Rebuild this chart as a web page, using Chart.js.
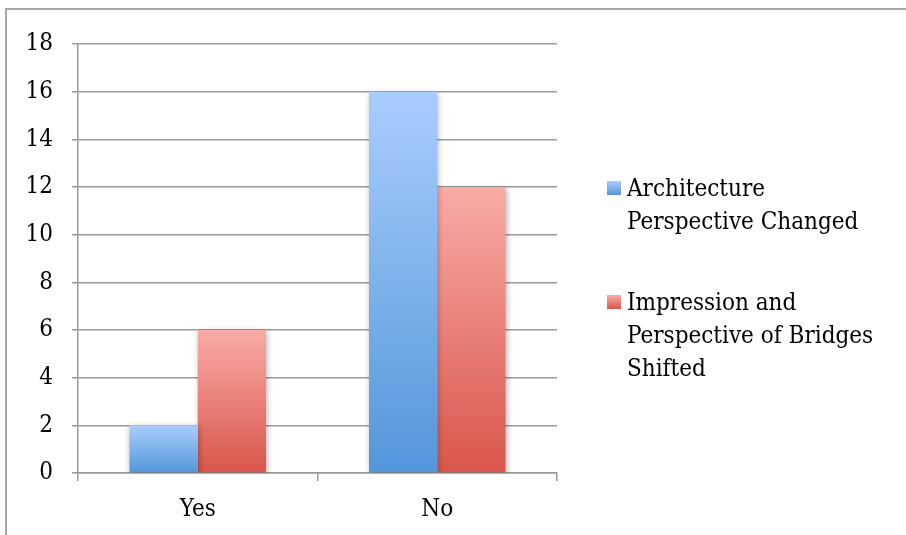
<!DOCTYPE html>
<html>
<head>
<meta charset="utf-8">
<script src="https://cdn.jsdelivr.net/npm/chart.js@4"></script>
<style>
  html, body { margin: 0; padding: 0; background: #fff; }
  #wrap { position: relative; width: 906px; height: 535px; overflow: hidden; }
  #frame { position: absolute; left: 5px; top: 8px; width: 910px; height: 540px;
           border-left: 2px solid #a6a6a6; border-top: 2px solid #a6a6a6; }
  #chart { position: absolute; left: 0; top: 0; }
  #legend { position: absolute; left: 607px; top: 172px;
            font-family: 'DejaVu Serif Condensed', 'DejaVu Serif', serif; font-stretch: condensed;
            font-size: 24px; color: #000; line-height: 33px; }
  .item { position: relative; padding-left: 20px; margin-bottom: 48px; }
  .swatch { position: absolute; left: 0; top: 9px; width: 14px; height: 14px; }
</style>
</head>
<body>
<div id="wrap">
  <div id="frame"></div>
  <canvas id="chart" width="906" height="535"></canvas>
  <div id="legend"></div>
</div>
<script>
const categories = ['Yes', 'No'];
const seriesNames = [['Architecture', 'Perspective Changed'], ['Impression and', 'Perspective of Bridges', 'Shifted']];
const architectureChanged = [2, 16];
const bridgesShifted = [6, 12];
const yTicks = [0, 2, 4, 6, 8, 10, 12, 14, 16, 18];

const blues = ['#a9cdfd', '#5396da'];
const reds = ['#f9aba7', '#d9564a'];
const gridGray = '#999999';
const font = { family: "'DejaVu Serif Condensed', 'DejaVu Serif', serif", size: 24 };

// vertical gradient from bar top down to the baseline
function barGradient(stops) {
  return ctx => {
    const chart = ctx.chart;
    const area = chart.chartArea;
    if (!area || ctx.raw == null) return stops[0];
    const top = chart.scales.y.getPixelForValue(ctx.raw);
    const bottom = chart.scales.y.getPixelForValue(0);
    const g = chart.ctx.createLinearGradient(0, top, 0, bottom);
    g.addColorStop(0, stops[0]);
    g.addColorStop(1, stops[1]);
    return g;
  };
}

// soft drop shadow behind the bars
const barShadow = {
  id: 'barShadow',
  beforeDatasetsDraw(chart) {
    const c = chart.ctx;
    c.save();
    c.shadowColor = 'rgba(0,0,0,0.3)';
    c.shadowBlur = 6;
    c.shadowOffsetX = 1;
    c.shadowOffsetY = 2;
  },
  afterDatasetsDraw(chart) {
    chart.ctx.restore();
  }
};

new Chart(document.getElementById('chart'), {
  type: 'bar',
  data: {
    labels: categories,
    datasets: [
      { label: seriesNames[0].join(' '), data: architectureChanged, backgroundColor: barGradient(blues) },
      { label: seriesNames[1].join(' '), data: bridgesShifted, backgroundColor: barGradient(reds) },
    ],
  },
  options: {
    responsive: false,
    animation: false,
    layout: { padding: { left: 0, top: 44, right: 349, bottom: 0 } },
    plugins: { legend: { display: false }, tooltip: { enabled: false } },
    datasets: { bar: { categoryPercentage: 0.57, barPercentage: 1 } },
    scales: {
      x: {
        afterFit: s => { s.height = 62; },
        grid: { offset: true, drawOnChartArea: false, color: gridGray, lineWidth: 1.5, tickLength: 8 },
        border: { color: gridGray, width: 1.5 },
        ticks: { color: '#000', font, padding: 14 },
      },
      y: {
        min: 0,
        max: 18,
        afterFit: s => { s.width = 78; },
        afterBuildTicks: s => { s.ticks = yTicks.map(v => ({ value: v })); },
        grid: { color: gridGray, lineWidth: 1.5, tickLength: 6 },
        border: { color: gridGray, width: 1.5 },
        ticks: { color: '#000', font, padding: 19 },
      },
    },
  },
  plugins: [barShadow],
});

// legend to the right, one swatch per series, wrapped names
const legend = document.getElementById('legend');
[blues, reds].forEach((stops, i) => {
  const item = document.createElement('div');
  item.className = 'item';
  const sw = document.createElement('div');
  sw.className = 'swatch';
  sw.style.background = `linear-gradient(${stops[0]}, ${stops[1]})`;
  item.appendChild(sw);
  item.insertAdjacentHTML('beforeend', seriesNames[i].join('<br>'));
  legend.appendChild(item);
});
</script>
</body>
</html>
